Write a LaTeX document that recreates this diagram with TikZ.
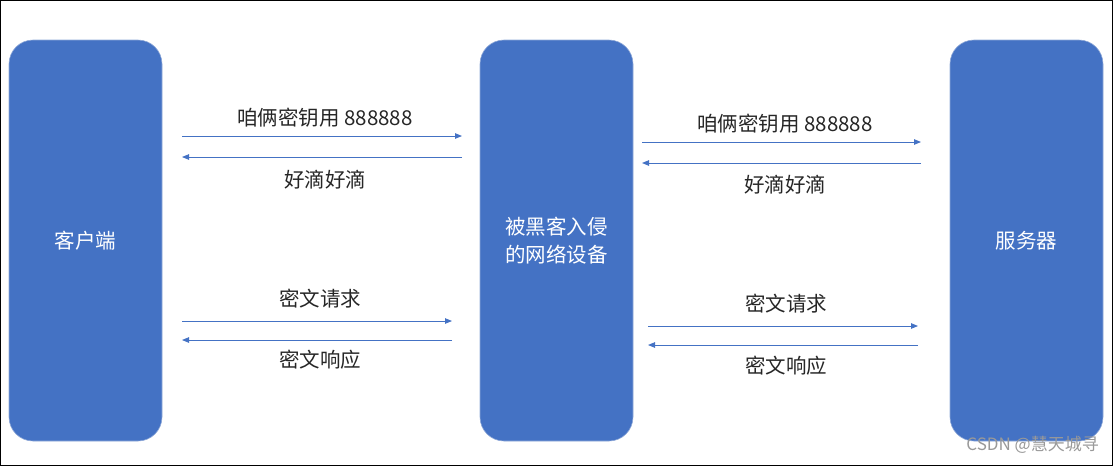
\documentclass[tikz,border=0pt]{standalone}
\usepackage{fontspec}
\setmainfont{Noto Sans CJK SC}
\usetikzlibrary{arrows.meta}
\definecolor{boxblue}{HTML}{4472C4}
\definecolor{edgeblue}{HTML}{8FA9D8}
\definecolor{txt}{HTML}{262626}
\tikzset{
  pillar/.style={draw=edgeblue, line width=0.6pt, fill=boxblue, rounded corners=24pt,
    minimum width=153pt, minimum height=401pt, inner sep=0pt, text=white,
    font=\fontsize{20.5}{28}\selectfont, align=center},
  msg/.style={draw=boxblue, line width=0.9pt, -{Triangle[length=7pt,width=5.5pt]}},
  lbl/.style={text=txt, font=\fontsize{20.5}{22}\selectfont, inner sep=0pt}
}
\begin{document}
\begin{tikzpicture}[x=1pt,y=-1pt]
\useasboundingbox (0,0) rectangle (1114,467);
\draw[line width=1.3pt, black] (0.8,0.8) rectangle (1112.6,465.5);
\node[pillar] (client) at (85.5,240.5) {客户端};
\node[pillar] (mitm) at (556.5,240.5) {被黑客入侵\\的网络设备};
\node[pillar] (server) at (1026.5,240.5) {服务器};
% top-left
\coordinate (a1) at (182,136); \coordinate (a2) at (462,136);
\coordinate (b1) at (462,157); \coordinate (b2) at (182,157);
\draw[msg] (a1) -- (a2);
\draw[msg] (b1) -- (b2);
\node[lbl] (ta) at (325,118) {咱俩密钥用 888888};
\node[lbl] (tb) at (325,180) {好滴好滴};
% top-right
\coordinate (c1) at (642,142); \coordinate (c2) at (921,142);
\coordinate (d1) at (921,163); \coordinate (d2) at (642,163);
\draw[msg] (c1) -- (c2);
\draw[msg] (d1) -- (d2);
\node[lbl] (tc) at (785,124) {咱俩密钥用 888888};
\node[lbl] (td) at (785,185) {好滴好滴};
% bottom-left
\coordinate (e1) at (182,321); \coordinate (e2) at (452,321);
\coordinate (f1) at (452,340); \coordinate (f2) at (182,340);
\draw[msg] (e1) -- (e2);
\draw[msg] (f1) -- (f2);
\node[lbl] (te) at (320,299) {密文请求};
\node[lbl] (tf) at (320,360) {密文响应};
% bottom-right
\coordinate (g1) at (648,326); \coordinate (g2) at (918,326);
\coordinate (h1) at (918,345); \coordinate (h2) at (648,345);
\draw[msg] (g1) -- (g2);
\draw[msg] (h1) -- (h2);
\node[lbl] (tg) at (786,304) {密文请求};
\node[lbl] (th) at (786,366) {密文响应};
% watermark
\node[text=gray!80, font=\fontsize{17}{20}\selectfont, inner sep=0pt, anchor=east] (wm) at (1099,445) {CSDN @慧天城寻};
\end{tikzpicture}
\end{document}
